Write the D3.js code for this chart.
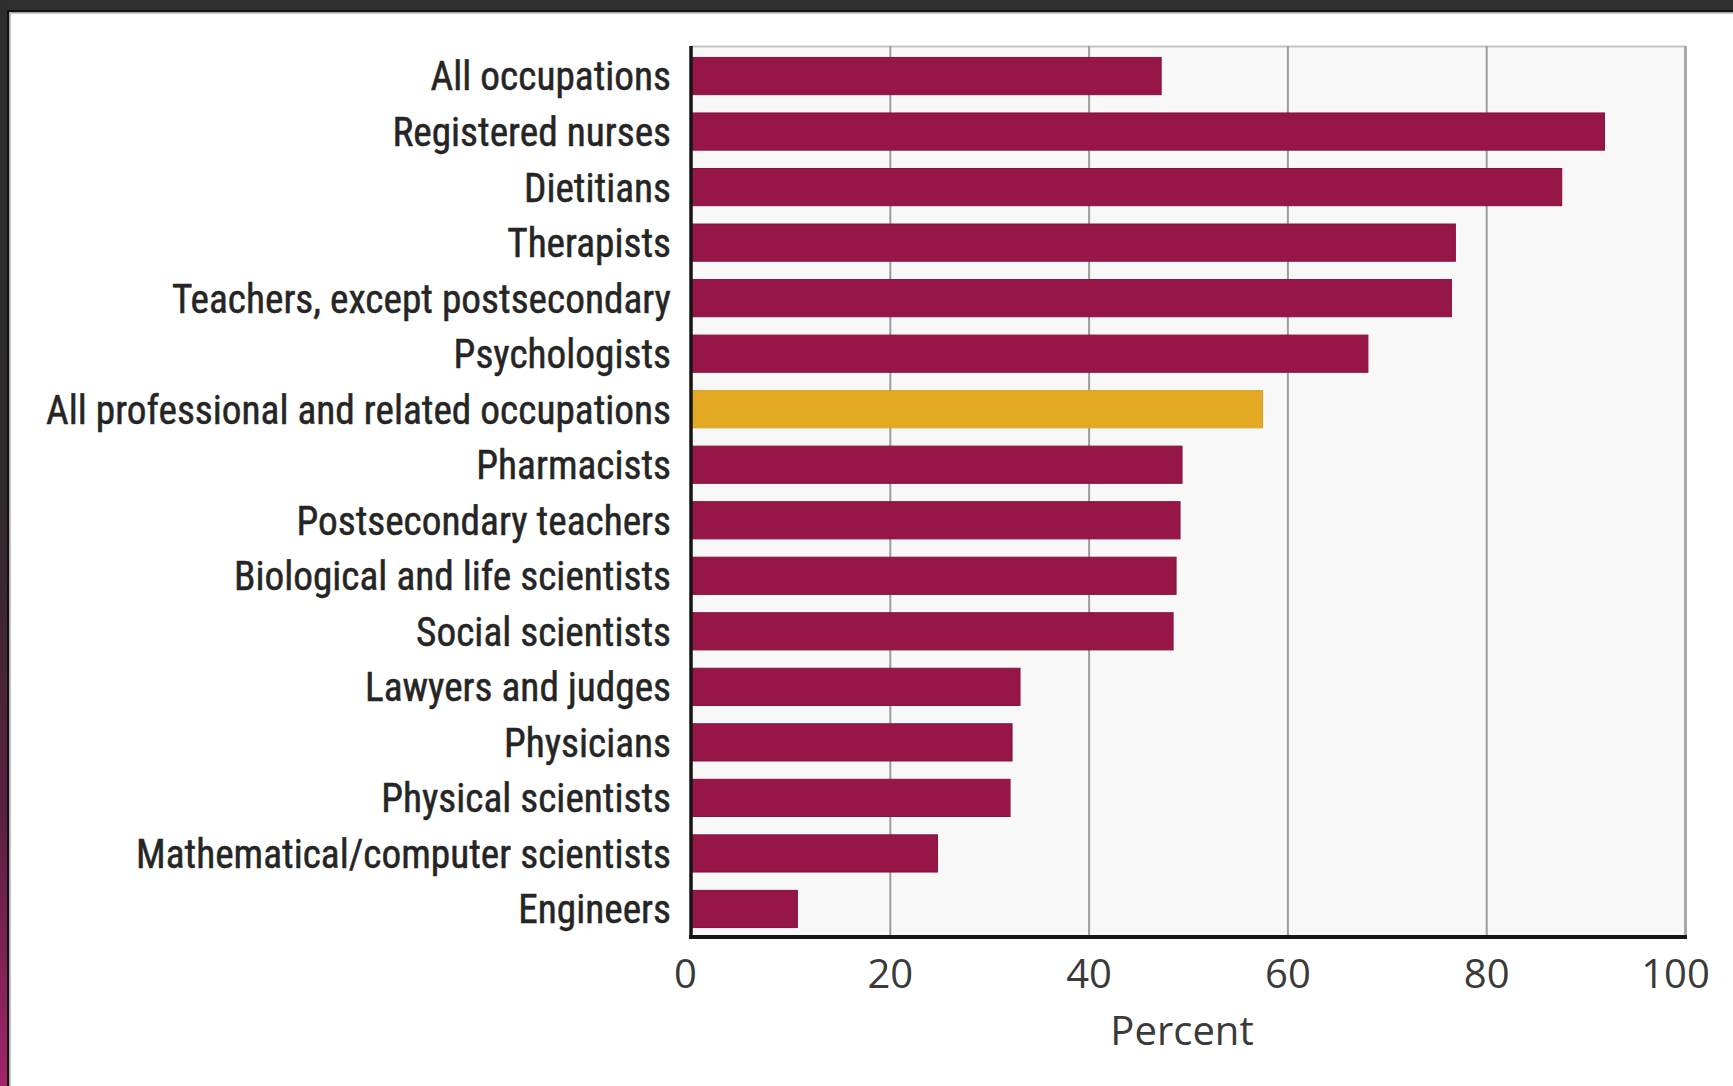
<!DOCTYPE html>
<html>
<head>
<meta charset="utf-8">
<script src="https://cdn.jsdelivr.net/npm/d3@7"></script>
<style>
  html, body { margin: 0; padding: 0; background: #ffffff; overflow: hidden; }
  svg { display: block; }
</style>
</head>
<body>
<svg id="chart" width="1733" height="1086"></svg>
<script>
// Occupations, top to bottom
const categories = [
  "All occupations",
  "Registered nurses",
  "Dietitians",
  "Therapists",
  "Teachers, except postsecondary",
  "Psychologists",
  "All professional and related occupations",
  "Pharmacists",
  "Postsecondary teachers",
  "Biological and life scientists",
  "Social scientists",
  "Lawyers and judges",
  "Physicians",
  "Physical scientists",
  "Mathematical/computer scientists",
  "Engineers"
];

// Percent for each occupation
const percents = [47.3, 91.9, 87.6, 76.9, 76.5, 68.1, 57.5, 49.4, 49.2, 48.8, 48.5, 33.1, 32.3, 32.1, 24.8, 10.7];

// The summary row drawn in gold
const highlighted = ["All professional and related occupations"];

const tickValues = [0, 20, 40, 60, 80, 100];
const tickLabels = ["0", "20", "40", "60", "80", "100"];
const axisTitle = "Percent";

const rows = categories.map((c, i) => ({ name: c, value: percents[i] }));

const W = 1733, H = 1086;
const plot = { left: 691, right: 1685, top: 46, bottom: 937 };

const svg = d3.select("#chart");

// ---- window frame ----
const defs = svg.append("defs");
const grad = defs.append("linearGradient")
  .attr("id", "edgeGrad").attr("x1", 0).attr("y1", 0).attr("x2", 0).attr("y2", 1);
grad.append("stop").attr("offset", "0%").attr("stop-color", "#2e2e2e");
grad.append("stop").attr("offset", "45%").attr("stop-color", "#2f2a2d");
grad.append("stop").attr("offset", "75%").attr("stop-color", "#5a2040");
grad.append("stop").attr("offset", "100%").attr("stop-color", "#a3246a");

svg.append("rect").attr("x", 0).attr("y", 0).attr("width", W).attr("height", 10).attr("fill", "#2f2f2f");
svg.append("rect").attr("x", 0).attr("y", 10).attr("width", W).attr("height", 2.5).attr("fill", "#111");
svg.append("rect").attr("x", 0).attr("y", 12.5).attr("width", W).attr("height", 1.5).attr("fill", "#c8c8c8");
svg.append("rect").attr("x", 0).attr("y", 0).attr("width", 7).attr("height", H).attr("fill", "url(#edgeGrad)");
svg.append("rect").attr("x", 7).attr("y", 10).attr("width", 2.5).attr("height", H).attr("fill", "#111");
svg.append("rect").attr("x", 9.5).attr("y", 12).attr("width", 1.5).attr("height", H).attr("fill", "#c8c8c8");

// ---- scales ----
const x = d3.scaleLinear().domain([0, 100]).range([plot.left, plot.right]);
const y = d3.scaleBand().domain(categories).range([48, 937]).paddingInner(0.33).paddingOuter(0.17);

// plot background
svg.append("rect")
  .attr("x", plot.left).attr("y", plot.top)
  .attr("width", plot.right - plot.left).attr("height", plot.bottom - plot.top)
  .attr("fill", "#f8f8f8");
svg.append("line")
  .attr("x1", plot.left).attr("x2", plot.right)
  .attr("y1", plot.top + 0.5).attr("y2", plot.top + 0.5)
  .attr("stroke", "#c4c4c4").attr("stroke-width", 2);

// ---- bottom axis: gridlines + tick labels ----
const xAxis = d3.axisBottom(x)
  .tickValues(tickValues)
  .tickFormat((d, i) => tickLabels[i])
  .tickSize(-(plot.bottom - plot.top))
  .tickPadding(23);

const gx = svg.append("g")
  .attr("transform", `translate(0,${plot.bottom})`)
  .call(xAxis);
gx.select(".domain").remove();
gx.selectAll(".tick line")
  .attr("stroke", d => d === 100 ? "#a8a8a8" : "#9c9c9c")
  .attr("stroke-width", d => d === 100 ? 3 : 2)
  .attr("opacity", d => d === 0 ? 0 : 1);
gx.selectAll(".tick text")
  .attr("font-family", "'Open Sans', 'Noto Sans', sans-serif")
  .attr("font-size", 40)
  .attr("fill", "#3a3a3a")
  .attr("dx", d => d === 0 ? -6 : (d === 100 ? -10 : 0));

// ---- bars ----
svg.append("g")
  .selectAll("rect")
  .data(rows)
  .join("rect")
  .attr("x", x(0))
  .attr("y", d => y(d.name))
  .attr("width", d => x(d.value) - x(0))
  .attr("height", y.bandwidth())
  .attr("fill", d => highlighted.includes(d.name) ? "#e4a923" : "#961647")
  .attr("stroke", d => highlighted.includes(d.name) ? "#d99f1f" : "#85123f")
  .attr("stroke-width", 1);

// ---- axis lines ----
svg.append("line")
  .attr("x1", plot.left - 2).attr("x2", plot.right + 2)
  .attr("y1", plot.bottom).attr("y2", plot.bottom)
  .attr("stroke", "#151515").attr("stroke-width", 4);

// ---- left axis: category labels ----
const yAxis = d3.axisLeft(y).tickSize(0).tickPadding(0);
const gy = svg.append("g")
  .attr("transform", `translate(${plot.left},0)`)
  .call(yAxis);
gy.select(".domain")
  .attr("stroke", "#151515").attr("stroke-width", 3.5)
  .attr("d", `M0,${plot.top}V${plot.bottom + 2}`);

const labels = gy.selectAll(".tick text")
  .attr("font-family", "'Liberation Sans Narrow', 'Roboto Condensed', 'DejaVu Sans Condensed', Roboto, sans-serif")
  .attr("font-size", 40)
  .attr("fill", "#252525")
  .attr("stroke", "#252525")
  .attr("stroke-width", 0.5)
  .attr("x", 0)
  .attr("dy", "0.36em");

// fit the longest label into its measured span and compress the rest equally
let widest = 0;
labels.each(function () { widest = Math.max(widest, this.getComputedTextLength()); });
const sx = 625 / widest;
labels.attr("transform", `translate(-20,0) scale(${sx},1)`);

// ---- axis title ----
svg.append("text")
  .attr("x", 1182)
  .attr("y", 1045)
  .attr("text-anchor", "middle")
  .attr("font-family", "'Open Sans', 'Noto Sans', sans-serif")
  .attr("font-size", 40)
  .attr("fill", "#3a3a3a")
  .text(axisTitle);
</script>
</body>
</html>
